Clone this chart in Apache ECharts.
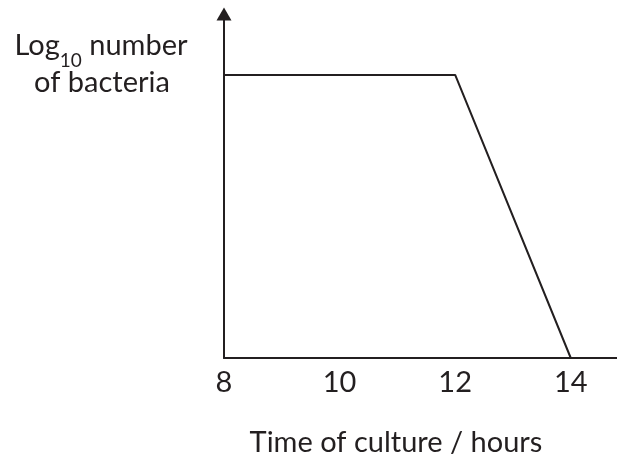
<!DOCTYPE html>
<html>
<head>
<meta charset="utf-8">
<script src="https://cdn.jsdelivr.net/npm/echarts@6/dist/echarts.min.js"></script>
<style>
html,body{margin:0;padding:0;background:#fff;}
#c{width:617px;height:459px;}
</style>
</head>
<body>
<div id="c"></div>
<script>
// Data
const timeHours = [8, 12, 14];
const logBacteria = [8.23, 8.23, 0];
const xTicks = [8, 10, 12, 14];
const yAxisTitle = ['Log', '10', ' number', 'of bacteria'];
const xAxisTitle = 'Time of culture / hours';

const FONT = 'Lato';
const INK = '#231f20';

const chart = echarts.init(document.getElementById('c'), null, {renderer: 'canvas'});
chart.setOption({
  backgroundColor: '#ffffff',
  animation: false,
  grid: {left: 224, right: 0, top: 14, bottom: 101, containLabel: false},
  xAxis: {
    type: 'value', min: 8, max: 14.8, interval: 2,
    axisLine: {show: true, lineStyle: {color: INK, width: 2}},
    axisTick: {show: false},
    splitLine: {show: false},
    axisLabel: {
      show: true, margin: 10, color: INK, fontFamily: FONT, fontSize: 29,
      showMaxLabel: false,
      formatter: v => (xTicks.indexOf(v) >= 0 ? String(v) : '')
    }
  },
  yAxis: {
    type: 'value', min: 0, max: 10,
    axisLine: {show: true, lineStyle: {color: INK, width: 2}, symbol: ['none', 'triangle'], symbolSize: [15, 13]},
    axisTick: {show: false},
    splitLine: {show: false},
    axisLabel: {show: false}
  },
  series: [{
    type: 'line',
    data: timeHours.map((t, i) => [t, logBacteria[i]]),
    symbol: 'none',
    lineStyle: {color: INK, width: 2},
    clip: false
  }],
  graphic: [
    {type: 'text', x: 101, y: 46, style: {
      text: '{a|' + yAxisTitle[0] + '}{s|' + yAxisTitle[1] + '}{a|' + yAxisTitle[2] + '}',
      align: 'center', verticalAlign: 'middle', fill: INK,
      rich: {
        a: {fontFamily: FONT, fontSize: 29, fill: INK, lineHeight: 34},
        s: {fontFamily: FONT, fontSize: 19, fill: INK, lineHeight: 34, padding: [30, 0, 0, 0]}
      }
    }},
    {type: 'text', x: 102, y: 83, style: {
      text: yAxisTitle[3], align: 'center', verticalAlign: 'middle', fill: INK,
      font: '29px ' + FONT
    }},
    {type: 'text', x: 396, y: 443, style: {
      text: xAxisTitle, align: 'center', verticalAlign: 'middle', fill: INK,
      font: '29px ' + FONT
    }}
  ]
});
</script>
</body>
</html>
